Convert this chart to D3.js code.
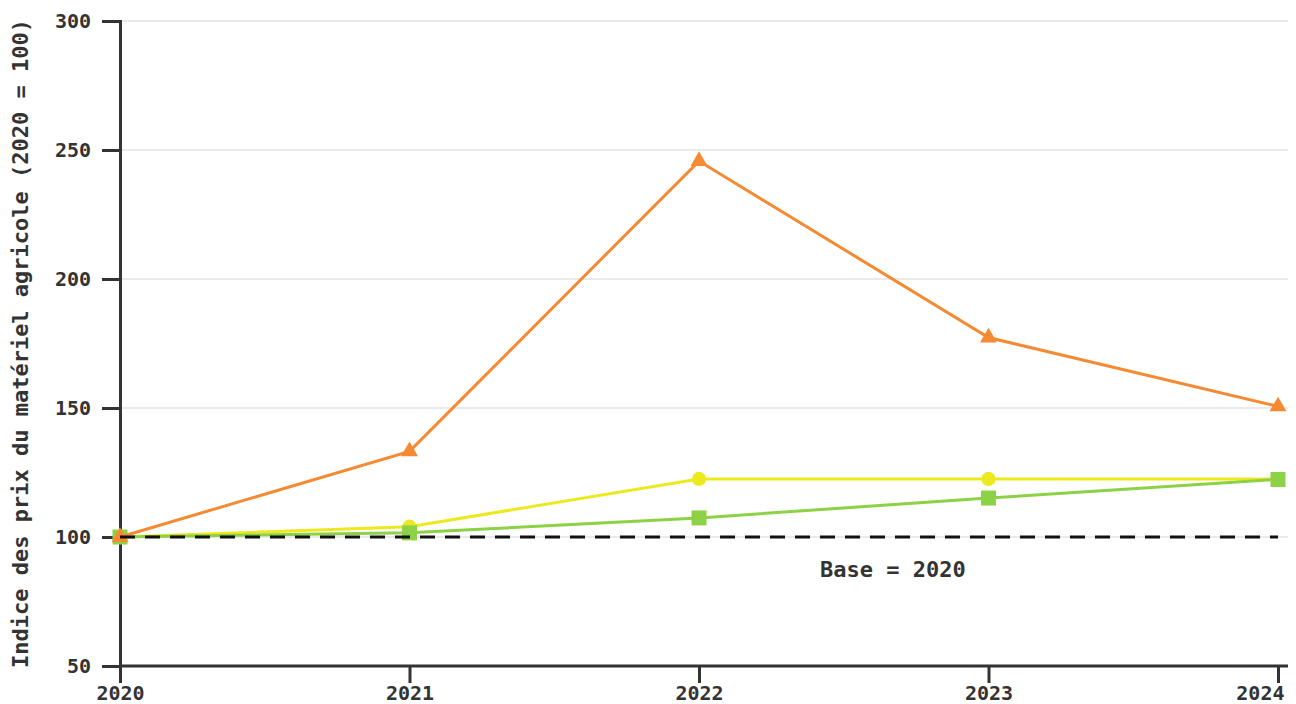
<!DOCTYPE html>
<html>
<head>
<meta charset="utf-8">
<script src="https://cdn.jsdelivr.net/npm/d3@7"></script>
<style>
  body { margin: 0; background: #fff; }
  text { font-family: "DejaVu Sans Mono", monospace; font-weight: bold; fill: #333; }
</style>
</head>
<body>
<script>
// données
const annees = [2020, 2021, 2022, 2023, 2024];
const serieOrange = [100, 133.2, 245.7, 177.3, 150.6];
const serieJaune = [100, 104, 122.5, 122.5, 122.5];
const serieVerte = [100, 101.6, 107.4, 115.1, 122.3];
const ticksY = [50, 100, 150, 200, 250, 300];
const titreY = "Indice des prix du matériel agricole (2020 = 100)";
const base = 100;
const texteBase = "Base = 2020";

const width = 1296;
const height = 704;
const margin = { top: 21, right: 8, bottom: 38, left: 120 };
const w = width - margin.left - margin.right;
const h = height - margin.top - margin.bottom;

const svg = d3.select("body")
  .append("svg")
  .attr("width", width)
  .attr("height", height);

const g = svg.append("g")
  .attr("transform", `translate(${margin.left},${margin.top})`);

const x = d3.scaleLinear().domain([2020, 2024]).range([0, w - 10]);
const y = d3.scaleLinear().domain([50, 300]).range([h, 0]);

// grille
g.selectAll(".grille")
  .data(ticksY)
  .enter()
  .append("line")
  .attr("x1", 0)
  .attr("x2", w)
  .attr("y1", d => y(d))
  .attr("y2", d => y(d))
  .attr("stroke", "#e3e3e3")
  .attr("stroke-width", 1.5);

// axes
const axeX = g.append("g")
  .attr("transform", `translate(0,${h})`)
  .call(d3.axisBottom(x).tickValues(annees).tickFormat(d3.format("d")).tickSize(17).tickSizeOuter(0).tickPadding(3));
axeX.select(".domain").attr("d", `M0,0H${w}`);

const axeY = g.append("g")
  .call(d3.axisLeft(y).tickValues(ticksY).tickSize(18).tickPadding(11));

[axeX, axeY].forEach(a => {
  a.selectAll("path, line").attr("stroke", "#333").attr("stroke-width", 3);
  a.selectAll("text").attr("font-size", 20).attr("font-family", null).attr("fill", "#333");
});

// la dernière année est recalée pour rester dans le cadre
axeX.selectAll(".tick text")
  .filter(d => d === annees[annees.length - 1])
  .attr("text-anchor", "end")
  .attr("x", 6);

svg.append("text")
  .attr("transform", `translate(28,${margin.top + h / 2}) rotate(-90)`)
  .attr("text-anchor", "middle")
  .attr("font-size", 22)
  .text(titreY);

// séries
const series = [
  { valeurs: serieJaune, couleur: "#ece91f", symbole: d3.symbolCircle, taille: 160 },
  { valeurs: serieVerte, couleur: "#8dd146", symbole: d3.symbolSquare, taille: 225 },
  { valeurs: serieOrange, couleur: "#f58a32", symbole: d3.symbolTriangle, taille: 125 }
];

const ligne = d3.line()
  .x((d, i) => x(annees[i]))
  .y(d => y(d));

series.forEach(s => {
  g.append("path")
    .datum(s.valeurs)
    .attr("d", ligne)
    .attr("fill", "none")
    .attr("stroke", s.couleur)
    .attr("stroke-width", 3);

  g.selectAll(null)
    .data(s.valeurs)
    .enter()
    .append("path")
    .attr("d", d3.symbol().type(s.symbole).size(s.taille))
    .attr("transform", (d, i) => `translate(${x(annees[i])},${y(d)})`)
    .attr("fill", s.couleur);
});

// ligne de base
g.append("line")
  .attr("x1", x(2020))
  .attr("x2", x(2024))
  .attr("y1", y(base))
  .attr("y2", y(base))
  .attr("stroke", "#111")
  .attr("stroke-width", 3)
  .attr("stroke-dasharray", "15,10");

g.append("text")
  .attr("x", x(2022.67))
  .attr("y", y(base) + 40)
  .attr("text-anchor", "middle")
  .attr("font-size", 22)
  .attr("fill", "#222")
  .text(texteBase);
</script>
</body>
</html>
